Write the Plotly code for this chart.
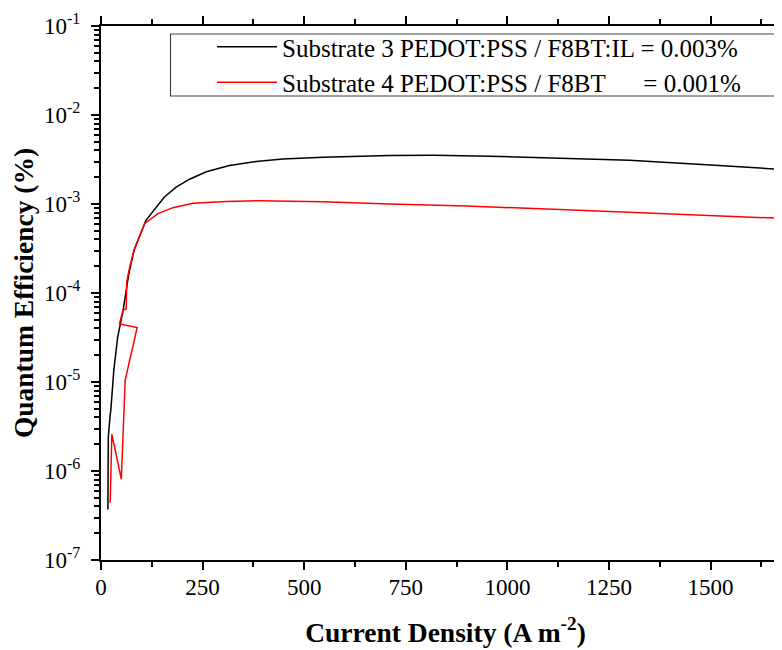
import plotly.graph_objects as go

# ---- data ----
black_x = [17, 18, 22.6, 24, 31.5, 37, 41, 54, 62, 68, 81, 111, 156, 185, 218, 259,
           316, 382, 447, 546, 710, 820, 956, 1100, 1300, 1500, 1672]
black_y = [3.7e-7, 2.4e-6, 4.3e-6, 4.7e-6, 1.35e-5, 2.3e-5, 3.2e-5, 6.2e-5, 1.0e-4,
           1.6e-4, 3.0e-4, 6.6e-4, 1.2e-3, 1.55e-3, 1.9e-3, 2.3e-3, 2.7e-3, 3.0e-3,
           3.2e-3, 3.35e-3, 3.5e-3, 3.52e-3, 3.45e-3, 3.3e-3, 3.1e-3, 2.75e-3, 2.45e-3]

red_x = [22.6, 26.6, 50, 59.5, 89, 45.5, 54, 62, 63.5, 70, 81, 107, 140, 177, 226, 308,
         390, 545, 710, 900, 1177, 1400, 1672]
red_y = [4.4e-7, 2.6e-6, 8.1e-7, 1.05e-5, 4.1e-5, 4.5e-5, 6.4e-5, 6.6e-5, 1.35e-4,
         1.9e-4, 3.0e-4, 6.0e-4, 7.8e-4, 9.1e-4, 1.02e-3, 1.07e-3, 1.09e-3, 1.06e-3,
         1.0e-3, 0.95e-3, 8.5e-4, 7.8e-4, 6.9e-4]

series_names = ["Substrate 3 PEDOT:PSS / F8BT:IL = 0.003%",
                "Substrate 4 PEDOT:PSS / F8BT" + "\u00a0" * 6 + "= 0.001%"]

x_tickvals = [0, 250, 500, 750, 1000, 1250, 1500]
x_ticktext = ["0", "250", "500", "750", "1000", "1250", "1500"]
x_minor = [125, 375, 625, 875, 1125, 1375, 1625]

y_exponents = [-7, -6, -5, -4, -3, -2, -1]
y_tickvals = [10.0 ** e for e in y_exponents]
y_ticktext = ["10<sup>%d</sup>" % e for e in y_exponents]
y_minor = [m * 10.0 ** e for e in y_exponents[:-1] for m in range(2, 10)]

FONT = "Liberation Serif"
W, H = 782, 650
OFF = 8  # page body margin offset
ML, MR, MT, MB = 101 - OFF, 0, 26 - OFF, 650 - (560 - OFF)
pw = W - ML - MR
ph = H - MT - MB
X_MAX = pw / 0.4064  # px per unit

def px_x(p):  # p in screen px
    return (p - OFF - ML) / pw

def px_y(p):
    return 1 - (p - OFF - MT) / ph

fig = go.Figure()
fig.add_trace(go.Scatter(x=black_x, y=black_y, mode="lines", name=series_names[0],
                         line=dict(color="black", width=1.5)))
fig.add_trace(go.Scatter(x=red_x, y=red_y, mode="lines", name=series_names[1],
                         line=dict(color="red", width=1.5)))

axis_common = dict(showgrid=False, zeroline=False, showline=True, linecolor="black",
                   linewidth=2, ticks="outside", ticklen=8, tickwidth=2, tickcolor="black",
                   automargin=False,
                   tickfont=dict(family=FONT, size=23, color="black"))

fig.update_xaxes(range=[0, X_MAX], tickvals=x_tickvals, ticktext=x_ticktext, mirror="ticks",
                 ticklabelstandoff=-3,
                 minor=dict(tickvals=x_minor, ticks="outside", ticklen=5, tickwidth=1.5,
                            tickcolor="black"),
                 title=dict(text="Current Density (A m<sup>-2</sup>)", standoff=24,
                            font=dict(family=FONT, size=27.5, color="black", weight="bold")),
                 **axis_common)
fig.update_yaxes(type="log", range=[-7, -1], tickvals=y_tickvals, ticktext=y_ticktext,
                 mirror=False, ticklabelstandoff=6,
                 minor=dict(tickvals=y_minor, ticks="outside", ticklen=5, tickwidth=1.5,
                            tickcolor="black"),
                 title=dict(text="Quantum Efficiency (%)", standoff=4,
                            font=dict(family=FONT, size=27.5, color="black", weight="bold")),
                 **axis_common)

fig.add_shape(type="rect", xref="paper", yref="paper",
              x0=px_x(170.5), x1=px_x(800), y0=px_y(96), y1=px_y(34),
              line=dict(color="#444444", width=1.2), fillcolor="rgba(0,0,0,0)")

fig.update_layout(
    width=W, height=H,
    margin=dict(l=ML, r=MR, t=MT, b=MB, autoexpand=False),
    paper_bgcolor="white", plot_bgcolor="white",
    font=dict(family=FONT, color="black"),
    legend=dict(x=px_x(212), xanchor="left", y=px_y(24), yanchor="top",
                itemwidth=60,
                bgcolor="rgba(0,0,0,0)", borderwidth=0,
                font=dict(family=FONT, size=25, color="black")),
)

fig.write_html("out.html")
